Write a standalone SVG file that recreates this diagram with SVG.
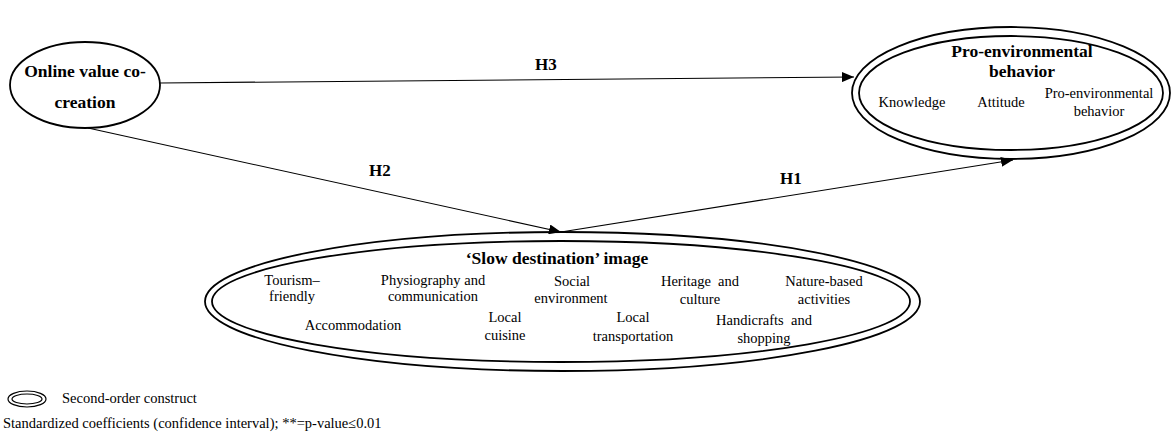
<svg xmlns="http://www.w3.org/2000/svg" width="1172" height="434" viewBox="0 0 1172 434">
<style>
  text { font-family: "Liberation Serif", "Times New Roman", serif; fill: #000; }
  .t { font-weight: bold; font-size: 17.5px; text-anchor: middle; }
  .h { font-weight: bold; font-size: 17px; }
  .i { font-size: 14.5px; text-anchor: middle; }
  .lg { font-size: 14.5px; }
  .el { fill: none; stroke: #000; stroke-width: 1.8; }
  .ln { fill: none; stroke: #000; stroke-width: 1.1; }
</style>
<defs>
  <marker id="ah" viewBox="0 0 12 10" refX="12" refY="5" markerWidth="12" markerHeight="10" markerUnits="userSpaceOnUse" orient="auto">
    <path d="M0,0 L12,5 L0,10 Z" fill="#000"/>
  </marker>
</defs>
<rect x="0" y="0" width="1172" height="434" fill="#fff"/>

<g id="connectors">
  <line class="ln" x1="160" y1="83" x2="854" y2="77" marker-end="url(#ah)"/>
  <line class="ln" x1="88" y1="128" x2="561" y2="232" marker-end="url(#ah)"/>
  <line class="ln" x1="561" y1="232" x2="1013" y2="160" marker-end="url(#ah)"/>
  <text class="h" x="535" y="70">H3</text>
  <text class="h" x="369" y="176">H2</text>
  <text class="h" x="780" y="184">H1</text>
</g>

<g id="online">
  <ellipse class="el" cx="85" cy="85" rx="75" ry="43" stroke-width="1.5"/>
  <text class="t" x="85" y="77">Online value co-</text>
  <text class="t" x="85" y="108">creation</text>
</g>

<g id="proenv">
  <ellipse class="el" cx="1011" cy="93" rx="159" ry="66"/>
  <ellipse class="el" cx="1011" cy="93" rx="152" ry="57"/>
  <text class="t" x="1022" y="57">Pro-environmental</text>
  <text class="t" x="1022" y="77">behavior</text>
  <text class="i" x="912" y="107" font-size="14">Knowledge</text>
  <text class="i" x="1001" y="107" font-size="14">Attitude</text>
  <text class="i" x="1099" y="98" font-size="14">Pro-environmental</text>
  <text class="i" x="1099" y="116" font-size="14">behavior</text>
</g>

<g id="slow">
  <ellipse class="el" cx="562.5" cy="301.5" rx="357.5" ry="69.5"/>
  <ellipse class="el" cx="561" cy="301.5" rx="349" ry="60.5"/>
  <text class="t" x="557" y="264">‘Slow destination’ image</text>
  <text class="i" x="292" y="285">Tourism–</text>
  <text class="i" x="292" y="301">friendly</text>
  <text class="i" x="433" y="285">Physiography and</text>
  <text class="i" x="433" y="301">communication</text>
  <text class="i" x="572" y="286">Social</text>
  <text class="i" x="571" y="303">environment</text>
  <text class="i" x="700" y="286" xml:space="preserve">Heritage  and</text>
  <text class="i" x="700" y="304">culture</text>
  <text class="i" x="824" y="286">Nature-based</text>
  <text class="i" x="824" y="304">activities</text>
  <text class="i" x="353" y="330">Accommodation</text>
  <text class="i" x="505" y="322">Local</text>
  <text class="i" x="505" y="340">cuisine</text>
  <text class="i" x="633" y="322">Local</text>
  <text class="i" x="633" y="341">transportation</text>
  <text class="i" x="764" y="325" xml:space="preserve">Handicrafts  and</text>
  <text class="i" x="764" y="343">shopping</text>
</g>

<g id="legend">
  <ellipse cx="27" cy="399" rx="19" ry="8" fill="none" stroke="#000" stroke-width="1.2"/>
  <ellipse cx="27" cy="399" rx="15" ry="5" fill="none" stroke="#000" stroke-width="1.2"/>
  <text class="lg" x="62" y="403">Second-order construct</text>
  <text class="lg" x="3" y="428">Standardized coefficients (confidence interval); **=p-value≤0.01</text>
</g>
</svg>
